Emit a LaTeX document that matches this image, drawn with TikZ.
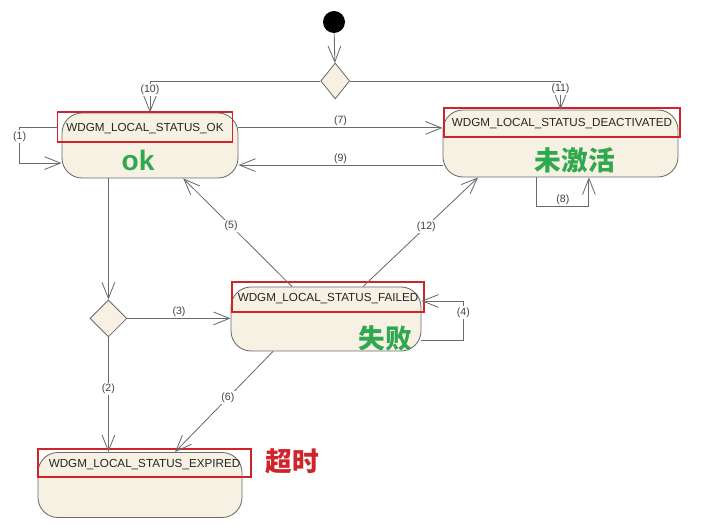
\documentclass[tikz,border=0pt]{standalone}
\usepackage{fontspec}
\setmainfont{Liberation Sans}
\newfontfamily\cjk{Noto Sans CJK SC}
\usepackage{tikz}
\usetikzlibrary{arrows.meta,positioning,calc,shapes.geometric}

\definecolor{statefill}{HTML}{F7F1E3}
\definecolor{lineg}{HTML}{6B6B6B}
\definecolor{markred}{HTML}{D0242B}
\definecolor{okgreen}{HTML}{2FA84F}

\begin{document}
\begin{tikzpicture}[
  state/.style={draw=lineg, fill=statefill, rounded corners=0.5cm, minimum height=1.625cm, line width=0.6pt},
  title/.style={draw=markred, line width=1.2pt, inner sep=0pt, text height=6pt, text depth=0pt, font=\fontsize{8.3}{9}\selectfont, text=black!85},
  choice/.style={diamond, draw=lineg, fill=statefill, inner sep=0pt, line width=0.6pt},
  arr/.style={-{Straight Barb[length=4mm,width=3.2mm]}, draw=lineg, line width=0.6pt},
  lbl/.style={font=\fontsize{7.5}{9}\selectfont, text=black!75, fill=white, inner sep=1pt},
  tag/.style={font=\cjk\bfseries\fontsize{19}{21}\selectfont, inner sep=0pt}
]
  \useasboundingbox (0,0) rectangle (18,13.25);

  % start and choice points
  \node[circle, fill=black, minimum size=0.55cm, inner sep=0pt] (init) at (8.35,12.7) {};
  \node[choice, minimum width=0.725cm, minimum height=0.9cm] (dtop) at (8.38,11.225) {};
  \node[choice, minimum size=0.925cm] (dlow) at (2.71,5.29) {};

  % states
  \node[state, minimum width=4.4cm] (ok) at (3.75,9.6125) {};
  \node[state, minimum width=5.875cm, minimum height=1.675cm] (deact) at (14.0125,9.6625) {};
  \node[state, minimum width=4.75cm, minimum height=1.6cm] (failed) at (8.15,5.275) {};
  \node[state, minimum width=5.1cm] (expired) at (3.5,1.125) {};

  \node[title, minimum width=4.375cm, minimum height=0.75cm] (okt) at (3.625,10.075) {WDGM\_LOCAL\_STATUS\_OK};
  \node[title, minimum width=5.9cm, minimum height=0.725cm] (deactt) at (14.05,10.1875) {WDGM\_LOCAL\_STATUS\_DEACTIVATED};
  \node[title, minimum width=4.8cm, minimum height=0.75cm] (failedt) at (8.2,5.825) {WDGM\_LOCAL\_STATUS\_FAILED};
  \node[title, minimum width=5.325cm, minimum height=0.7cm] (expiredt) at (3.6125,1.675) {WDGM\_LOCAL\_STATUS\_EXPIRED};

  \node[tag, text=okgreen, font=\bfseries\fontsize{20}{22}\selectfont] (oktag) at (3.45,9.25) {ok};
  \node[tag, text=okgreen] (deacttag) at (14.375,9.25) {未激活};
  \node[tag, text=okgreen] (failedtag) at (9.625,4.8) {失败};
  \node[tag, text=markred] (expiredtag) at (7.3,1.725) {超时};

  % transitions
  \draw[arr] (init) -- (dtop);
  \draw[arr] (dtop.west) -| node[lbl, pos=0.64] {(10)} (ok.north);
  \draw[arr] (dtop.east) -| node[lbl, pos=0.64] {(11)} (deact.north);

  \coordinate (p7) at ([yshift=4.4mm]ok.east);
  \draw[arr] (p7) -- node[lbl, above] {(7)} (p7 -| deact.west);
  \coordinate (p9) at ([yshift=-5.4mm]deact.west);
  \draw[arr] (p9) -- node[lbl, above] {(9)} (p9 -| ok.east);

  \draw[arr] (okt.west) -- ++(-0.925,0) node[lbl, below=2pt] {(1)} |- ([yshift=-4.4mm]ok.west);
  \draw[arr] ([xshift=-5.9mm]deact.south) -- ++(0,-0.725) -| node[lbl, pos=0.25, above] {(8)} ([xshift=7.1mm]deact.south);
  \draw[arr] ([yshift=-5.25mm]failed.east) -- ++(1.05,0) |- node[lbl, pos=0.35] {(4)} ([yshift=4.5mm]failed.east);

  \draw[arr] (ok.south -| dlow.north) -- (dlow.north);
  \draw[arr] (dlow.east) -- node[lbl, above] {(3)} (dlow.east -| failed.west);
  \draw[arr] (dlow.south) -- node[lbl, pos=0.45] {(2)} (dlow.south |- expired.north);

  \draw[arr] ([xshift=-8.5mm]failed.north) -- node[lbl, pos=0.56] {(5)} ([xshift=8.3mm]ok.south);
  \draw[arr] ([xshift=9.25mm]failed.north) -- node[lbl, pos=0.55] {(12)} ([xshift=-20.6mm]deact.south);
  \draw[arr] ([xshift=-13.25mm]failed.south) -- node[lbl, pos=0.46] {(6)} ([xshift=8.75mm]expired.north);
\end{tikzpicture}
\end{document}
